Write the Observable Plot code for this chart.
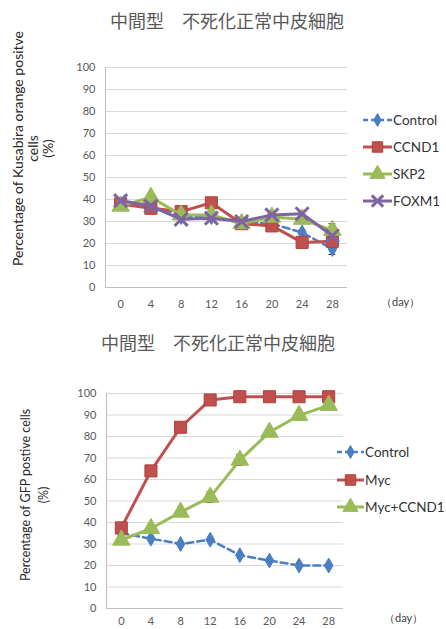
<!DOCTYPE html>
<html><head><meta charset="utf-8">
<script src="https://cdn.jsdelivr.net/npm/d3@7"></script>
<script src="https://cdn.jsdelivr.net/npm/@observablehq/plot@0.6"></script>
<style>
body{margin:0;background:#fff;}
#page{position:relative;width:446px;height:629px;overflow:hidden;font-family:Lato,"Open Sans",sans-serif;background:#fff;}
.abs{position:absolute;}
.title{font-family:"Noto Sans CJK JP";font-size:18px;color:#595959;white-space:nowrap;text-align:center;line-height:22px;}
.ytitle{color:#262626;text-align:center;white-space:nowrap;transform:rotate(-90deg);transform-origin:50% 50%;}
.leg{font-size:13.5px;color:#333;white-space:nowrap;display:flex;align-items:center;height:20px;}
.day{font-size:11px;color:#404040;white-space:nowrap;}
</style></head><body><div id="page"></div>
<script>
// ---- data ----
const titleText = "中間型　不死化正常中皮細胞";
const days = [0, 4, 8, 12, 16, 20, 24, 28];
const yTicks = [0, 10, 20, 30, 40, 50, 60, 70, 80, 90, 100];
const dayLabel = "（day）";

// chart 1
const c1YTitle = ["Percentage of Kusabira orange positve", "cells", "(%)"];
const c1Names = ["Control", "CCND1", "SKP2", "FOXM1"];
const c1Control = [38, 37, 32, 32, 30, 29, 25, 17.5];
const c1CCND1 = [38, 36, 34.5, 38.5, 29, 28, 20.5, 21];
const c1SKP2 = [37, 41, 33, 33, 29, 32, 31, 26];
const c1FOXM1 = [39.5, 37, 31, 31.5, 30, 33, 33.5, 23.5];
const c1ControlErr = [0, 0, 0, 0, 0, 0, 1, 2.5];
const c1CCND1Err = [0, 0, 0, 0, 0, 0, 0, 0];
const c1SKP2Err = [0, 0, 0, 0, 0, 0, 1.5, 3];
const c1FOXM1Err = [0, 0, 0, 0, 0, 0, 0, 0];

// chart 2
const c2YTitle = ["Percentage of GFP postive cells", "(%)"];
const c2Names = ["Control", "Myc", "Myc+CCND1"];
const c2Control = [35, 32.5, 30, 32, 24.8, 22.3, 20, 20];
const c2Myc = [37.5, 64, 84.3, 97, 98.5, 98.5, 98.5, 98.5];
const c2MycCCND1 = [31.8, 37.2, 44.8, 51.8, 69, 82, 89.8, 94.5];
const c2ControlErr = [0, 0, 0, 0, 0, 0, 0, 0];
const c2MycErr = [0, 0, 0, 0, 0, 0, 0, 0];
const c2MycCCND1Err = [0, 0, 1, 2.5, 2.5, 1.5, 0, 0];

// ---- styles ----
const BLUE = "#4a7fc4", RED = "#c0504d", GREEN = "#9bbb59", PURPLE = "#8064a2";
const styleOf = {
  Control: {color: BLUE, dash: "7,4", width: 2.5, symbol: "diamond", fill: BLUE, stroke: BLUE, sw: 1},
  CCND1: {color: RED, dash: null, width: 3, symbol: "square", fill: RED, stroke: "#b0403d", sw: 1},
  Myc: {color: RED, dash: null, width: 3, symbol: "square", fill: RED, stroke: "#b0403d", sw: 1},
  SKP2: {color: GREEN, dash: null, width: 3, symbol: "triangle", fill: GREEN, stroke: GREEN, sw: 1},
  "Myc+CCND1": {color: GREEN, dash: null, width: 3, symbol: "triangle", fill: GREEN, stroke: GREEN, sw: 1},
  FOXM1: {color: PURPLE, dash: null, width: 3, symbol: "times", fill: "none", stroke: PURPLE, sw: 3}
};
const rOf = {diamond: 4.5, square: 6.8, triangle: 6.5, times: 6};

const page = document.getElementById("page");
function el(cls, css, html) {
  const d = document.createElement("div");
  d.className = "abs " + cls;
  Object.assign(d.style, css);
  if (html != null) d.innerHTML = html;
  page.appendChild(d);
  return d;
}

function chart({series, top, height, marginTop, marginBottom, marginLeft, marginRight, xPad}) {
  const xDomain = [-2, 30];
  const marks = [
    Plot.ruleY(yTicks.slice(1), {stroke: "#d9d9d9", strokeWidth: 1}),
    Plot.ruleY([0], {stroke: "#bfbfbf", strokeWidth: 1}),
    Plot.ruleX([xDomain[0]], {stroke: "#bfbfbf", strokeWidth: 1}),
    Plot.axisY(yTicks, {tickSize: 0, tickPadding: 10, label: null}),
    Plot.axisX(days, {tickSize: 0, tickPadding: xPad, label: null})
  ];
  for (const s of series) {
    const st = styleOf[s.name];
    const data = s.values.map((v, i) => ({day: days[i], value: v, err: s.errors[i]}));
    marks.push(Plot.line(data, {x: "day", y: "value", stroke: st.color, strokeWidth: st.width, strokeDasharray: st.dash, strokeLinejoin: "round"}));
    const ed = data.filter(d => d.err > 0);
    marks.push(Plot.ruleX(ed, {x: "day", y1: d => d.value - d.err, y2: d => d.value + d.err, stroke: "#333", strokeWidth: 1}));
    marks.push(Plot.ruleY(ed, {y: d => d.value + d.err, x1: d => d.day - 0.45, x2: d => d.day + 0.45, stroke: "#333", strokeWidth: 1}));
    marks.push(Plot.ruleY(ed, {y: d => d.value - d.err, x1: d => d.day - 0.45, x2: d => d.day + 0.45, stroke: "#333", strokeWidth: 1}));
    marks.push(Plot.dot(data, {x: "day", y: "value", symbol: st.symbol, r: rOf[st.symbol], fill: st.fill, stroke: st.stroke, strokeWidth: st.sw}));
  }
  const p = Plot.plot({
    width: 446, height, marginTop, marginBottom, marginLeft, marginRight,
    x: {type: "linear", domain: xDomain},
    y: {type: "linear", domain: [0, 100]},
    style: {fontFamily: "Lato, 'Open Sans', sans-serif", fontSize: "11px", color: "#595959", background: "transparent", overflow: "visible"},
    marks
  });
  const wrap = el("", {left: "0px", top: top + "px", width: "446px", height: height + "px"});
  wrap.appendChild(p);
}

function legend(items, left, tops, swW) {
  items.forEach((name, i) => {
    const st = styleOf[name];
    const r = rOf[st.symbol];
    const size = Math.PI * r * r * 0.75;
    const path = d3.symbol(d3["symbol" + st.symbol[0].toUpperCase() + st.symbol.slice(1)] || d3.symbolSquare, size)();
    const dash = st.dash ? `stroke-dasharray="5,3"` : "";
    const svg = `<svg width="${swW}" height="20" style="overflow:visible"><line x1="0" x2="${swW}" y1="10" y2="10" stroke="${st.color}" stroke-width="${st.width}" ${dash}/><path transform="translate(${swW/2},10)" d="${path}" fill="${st.fill}" stroke="${st.stroke}" stroke-width="${st.sw}"/></svg>`;
    el("leg", {left: left + "px", top: (tops[i] - 10) + "px"}, svg + `<span style="margin-left:1px">${name}</span>`);
  });
}

// ---- chart 1 ----
el("title", {left: "107px", top: "9px", width: "240px"}, titleText);
chart({
  series: [
    {name: "Control", values: c1Control, errors: c1ControlErr},
    {name: "CCND1", values: c1CCND1, errors: c1CCND1Err},
    {name: "SKP2", values: c1SKP2, errors: c1SKP2Err},
    {name: "FOXM1", values: c1FOXM1, errors: c1FOXM1Err}
  ],
  top: 0, height: 314, marginTop: 67, marginBottom: 27, marginLeft: 105, marginRight: 99, xPad: 13
});
el("ytitle", {left: (32 - 130) + "px", top: (148 - 22.5) + "px", width: "260px", lineHeight: "15px", fontSize: "14px"}, c1YTitle.join("<br>"));
legend(c1Names, 363, [120, 147, 174, 201], 29);
el("day", {left: "381px", top: "295px"}, dayLabel);

// ---- chart 2 ----
el("title", {left: "98px", top: "331px", width: "240px"}, titleText);
chart({
  series: [
    {name: "Control", values: c2Control, errors: c2ControlErr},
    {name: "Myc", values: c2Myc, errors: c2MycErr},
    {name: "Myc+CCND1", values: c2MycCCND1, errors: c2MycCCND1Err}
  ],
  top: 314, height: 315, marginTop: 79, marginBottom: 21, marginLeft: 106, marginRight: 103, xPad: 9
});
el("ytitle", {left: (35 - 110) + "px", top: (495 - 18) + "px", width: "220px", lineHeight: "18px", fontSize: "12.5px"}, c2YTitle.join("<br>"));
legend(c2Names, 337, [452, 480, 507], 27);
el("day", {left: "384px", top: "611px"}, dayLabel);
</script>
</body></html>
